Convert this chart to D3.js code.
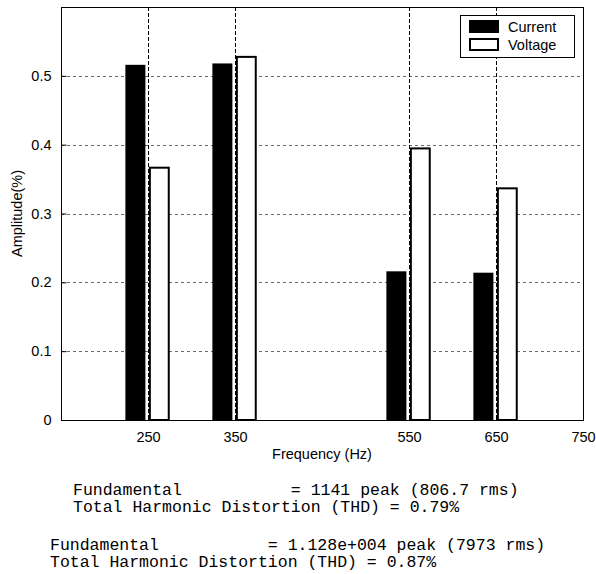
<!DOCTYPE html>
<html>
<head>
<meta charset="utf-8">
<script src="https://cdn.jsdelivr.net/npm/d3@7"></script>
<style>
  body { margin: 0; background: #fff; }
  svg { display: block; }
</style>
</head>
<body>
<svg width="596" height="574"></svg>
<script>
// harmonic amplitudes
var freqs = [250, 350, 550, 650];
var current = [0.516, 0.518, 0.216, 0.214];
var voltage = [0.368, 0.529, 0.396, 0.338];
var xTicks = [250, 350, 550, 650, 750];
var yTicks = [0, 0.1, 0.2, 0.3, 0.4, 0.5];
var seriesNames = ["Current", "Voltage"];
var notes = [
  ["Fundamental           = 1141 peak (806.7 rms)",
   "Total Harmonic Distortion (THD) = 0.79%"],
  ["Fundamental           = 1.128e+004 peak (7973 rms)",
   "Total Harmonic Distortion (THD) = 0.87%"]
];

var svg = d3.select("svg");
var pl = 61, pr = 583, pt = 7, pb = 420;

var x = d3.scaleLinear().domain([150, 750]).range([pl, pr]);
var y = d3.scaleLinear().domain([0, 0.6]).range([pb, pt]);

var g = svg.append("g");
var font = "'Liberation Sans', Arial, sans-serif";
var fs = "14.5px";

// grid
g.selectAll(".hgrid").data(yTicks.slice(1)).enter().append("line")
  .attr("x1", pl).attr("x2", pr)
  .attr("y1", d => Math.round(y(d)) + 0.5).attr("y2", d => Math.round(y(d)) + 0.5)
  .attr("stroke", "#6a6a6a").attr("stroke-dasharray", "3,3");

// bars, current to the left of the frequency, voltage to the right
var curOff = [-26, -3], volOff = [1, 25];
g.selectAll(".cur").data(freqs).enter().append("rect")
  .attr("x", d => x(d + curOff[0]))
  .attr("width", d => x(d + curOff[1]) - x(d + curOff[0]))
  .attr("y", (d, i) => y(current[i]))
  .attr("height", (d, i) => pb - y(current[i]))
  .attr("fill", "#000");

g.selectAll(".vol").data(freqs).enter().append("rect")
  .attr("x", d => x(d + volOff[0]) + 1)
  .attr("width", d => x(d + volOff[1]) - x(d + volOff[0]) - 2)
  .attr("y", (d, i) => y(voltage[i]) + 1)
  .attr("height", (d, i) => pb - y(voltage[i]) - 1)
  .attr("fill", "#fff").attr("stroke", "#000").attr("stroke-width", 2);

g.selectAll(".vgrid").data(xTicks.slice(0, -1)).enter().append("line")
  .attr("x1", d => Math.round(x(d)) + 0.5).attr("x2", d => Math.round(x(d)) + 0.5)
  .attr("y1", pt).attr("y2", pb)
  .attr("stroke", "#000").attr("stroke-dasharray", "4,2");

// box
g.append("rect")
  .attr("x", pl + 0.5).attr("y", pt + 0.5)
  .attr("width", pr - pl).attr("height", pb - pt)
  .attr("fill", "none").attr("stroke", "#000");

// axes with inward ticks
var yAxis = d3.axisLeft(y).tickValues(yTicks).tickSizeInner(-5).tickSizeOuter(0)
  .tickPadding(10).tickFormat(d => d === 0 ? "0" : d3.format(".1f")(d));
var ya = g.append("g").attr("transform", "translate(" + (pl + 0.5) + ",0)").call(yAxis);
var xAxis = d3.axisBottom(x).tickValues(xTicks).tickSizeInner(-5).tickSizeOuter(0)
  .tickPadding(11).tickFormat(d3.format("d"));
var xa = g.append("g").attr("transform", "translate(0," + (pb + 0.5) + ")").call(xAxis);
[ya, xa].forEach(function(a) {
  a.select(".domain").remove();
  a.selectAll("line").attr("stroke", "#000");
  a.selectAll("text").attr("fill", "#000").style("font-family", font).style("font-size", fs);
});

g.append("text").attr("x", (pl + pr) / 2).attr("y", 459)
  .attr("text-anchor", "middle").style("font-family", font).style("font-size", fs)
  .text("Frequency (Hz)");
g.append("text").attr("transform", "translate(22," + ((pt + pb) / 2) + ") rotate(-90)")
  .attr("text-anchor", "middle").style("font-family", font).style("font-size", fs)
  .text("Amplitude(%)");

// legend
var lg = g.append("g").attr("transform", "translate(460,15)");
lg.append("rect").attr("x", 0.5).attr("y", 0.5).attr("width", 114).attr("height", 42)
  .attr("fill", "#fff").attr("stroke", "#000");
seriesNames.forEach(function(name, i) {
  var row = lg.append("g").attr("transform", "translate(0," + (i * 18) + ")");
  if (i === 0) {
    row.append("rect").attr("x", 9).attr("y", 5).attr("width", 30).attr("height", 13).attr("fill", "#000");
  } else {
    row.append("rect").attr("x", 10).attr("y", 6).attr("width", 28).attr("height", 11)
      .attr("fill", "#fff").attr("stroke", "#000").attr("stroke-width", 2);
  }
  row.append("text").attr("x", 48).attr("y", 17)
    .style("font-family", font).style("font-size", fs).text(name);
});

// THD notes below the chart
var mono = "'Liberation Mono', 'Courier New', monospace";
var noteX = [73, 50], noteY = [495, 550];
notes.forEach(function(lines, k) {
  lines.forEach(function(t, j) {
    svg.append("text").attr("x", noteX[k]).attr("y", noteY[k] + j * 17)
      .attr("xml:space", "preserve").style("white-space", "pre")
      .style("font-family", mono).style("font-size", "16.5px").attr("fill", "#000")
      .text(t);
  });
});
</script>
</body>
</html>
